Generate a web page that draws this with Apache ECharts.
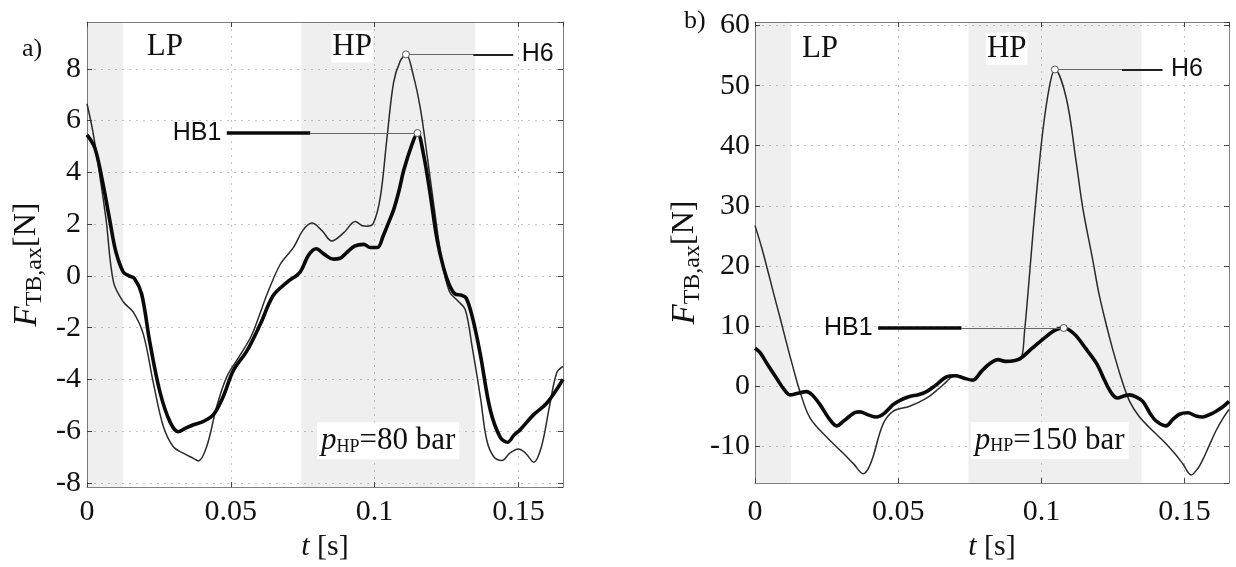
<!DOCTYPE html>
<html><head><meta charset="utf-8">
<script src="https://cdn.jsdelivr.net/npm/echarts@6/dist/echarts.min.js"></script>
<style>html,body{margin:0;padding:0;background:#fff}#c{width:1236px;height:567px}</style>
</head><body><div id="c"></div>
<script>
// ---------- data ----------
const xTickLabels = ['0', '0.05', '0.1', '0.15'];
const yTicksA = [-8, -6, -4, -2, 0, 2, 4, 6, 8];
const yTicksB = [-10, 0, 10, 20, 30, 40, 50, 60];
const seriesNames = ['H6', 'HB1'];
const pressureA = 80, pressureB = 150;

// panel a) p_HP = 80 bar
const tA_H6 = [0,0.0020,0.0040,0.0066,0.0092,0.0126,0.0161,0.0196,0.0231,0.0265,0.0300,0.0335,0.0370,0.0387,0.0416,0.0451,0.0486,0.0530,0.0570,0.0600,0.0625,0.0672,0.0718,0.0750,0.0782,0.0817,0.0851,0.0892,0.0933,0.0955,0.0973,0.0996,0.1020,0.1043,0.1066,0.1089,0.1109,0.1135,0.1159,0.1182,0.1205,0.1235,0.1260,0.1288,0.1315,0.1340,0.1368,0.1390,0.1415,0.1443,0.1470,0.1500,0.1525,0.1553,0.1580,0.1607,0.1633,0.1655];
const vA_H6 = [6.65,5.60,4.20,2.20,-0.23,-1.00,-1.40,-2.26,-4.15,-5.80,-6.60,-6.85,-7.05,-7.15,-6.60,-5.05,-3.90,-3.10,-2.35,-1.50,-0.74,0.45,1.10,1.75,2.04,1.75,1.35,1.66,2.10,1.95,1.92,2.04,3.05,5.33,7.48,8.30,8.56,7.73,6.47,4.70,2.80,0.50,-0.60,-0.95,-1.30,-2.80,-4.70,-6.35,-7.00,-7.13,-6.85,-6.69,-6.85,-7.20,-6.60,-5.10,-3.75,-3.50];
const tA_HB1 = [0,0.0027,0.0053,0.0080,0.0100,0.0126,0.0146,0.0165,0.0190,0.0219,0.0254,0.0289,0.0318,0.0340,0.0370,0.0405,0.0440,0.0474,0.0509,0.0556,0.0602,0.0648,0.0695,0.0741,0.0770,0.0797,0.0823,0.0857,0.0880,0.0903,0.0930,0.0962,0.0985,0.1010,0.1030,0.1050,0.1066,0.1085,0.1101,0.1130,0.1149,0.1170,0.1193,0.1217,0.1240,0.1260,0.1280,0.1300,0.1318,0.1340,0.1367,0.1402,0.1437,0.1462,0.1485,0.1507,0.1553,0.1600,0.1655];
const vA_HB1 = [5.45,4.95,3.70,2.10,0.95,0.15,0.00,-0.10,-0.70,-2.60,-4.50,-5.65,-6.02,-5.90,-5.75,-5.62,-5.35,-4.65,-3.65,-2.90,-1.88,-0.75,-0.25,0.15,0.80,1.05,0.85,0.65,0.68,0.90,1.15,1.22,1.10,1.10,1.55,2.10,2.55,3.30,4.07,5.08,5.52,4.70,3.18,1.41,0.30,-0.35,-0.70,-0.74,-0.85,-1.60,-3.00,-5.17,-6.24,-6.43,-6.15,-5.93,-5.36,-4.90,-4.00];

// panel b) p_HP = 150 bar
const tB_H6 = [0,0.0023,0.0049,0.0064,0.0090,0.0112,0.0134,0.0157,0.0192,0.0250,0.0308,0.0345,0.0378,0.0395,0.0412,0.0447,0.0482,0.0540,0.0599,0.0640,0.0668,0.0690,0.0715,0.0740,0.0761,0.0790,0.0819,0.0848,0.0874,0.0908,0.0930,0.0941,0.0953,0.0968,0.0982,0.1005,0.1029,0.1047,0.1087,0.1122,0.1145,0.1180,0.1200,0.1225,0.1249,0.1279,0.1308,0.1340,0.1377,0.1405,0.1435,0.1465,0.1493,0.1523,0.1545,0.1563,0.1585,0.1610,0.1635,0.1655];
const vB_H6 = [26.7,23.1,18.4,15.6,10.9,6.8,2.9,-0.93,-5.3,-8.5,-11.2,-13.0,-14.6,-13.8,-11.8,-6.35,-4.2,-3.37,-2.0,-0.5,0.7,1.6,1.7,1.2,0.9,2.3,3.6,4.4,4.0,4.2,4.6,9.0,15.4,24.0,31.6,42.5,50.1,52.7,47.9,37.1,29.5,20.8,15.6,10.5,6.1,1.24,-2.56,-5.0,-6.9,-8.2,-9.6,-11.2,-12.9,-14.8,-13.8,-12.3,-10.0,-7.4,-5.3,-3.9];
const tB_HB1 = [0,0.0017,0.0045,0.0076,0.0102,0.0122,0.0150,0.0180,0.0200,0.0227,0.0260,0.0285,0.0310,0.0331,0.0350,0.0366,0.0395,0.0424,0.0450,0.0482,0.0510,0.0540,0.0570,0.0599,0.0630,0.0668,0.0700,0.0730,0.0761,0.0790,0.0819,0.0848,0.0874,0.0908,0.0930,0.0968,0.1008,0.1048,0.1078,0.1114,0.1154,0.1194,0.1220,0.1247,0.1265,0.1290,0.1308,0.1330,0.1354,0.1380,0.1400,0.1435,0.1460,0.1482,0.1511,0.1540,0.1563,0.1590,0.1610,0.1635,0.1655];
const vB_HB1 = [6.3,5.6,3.5,1.24,-0.6,-1.47,-1.2,-0.93,-1.5,-3.1,-5.5,-6.63,-5.8,-5.0,-4.4,-4.3,-4.8,-5.16,-4.6,-3.1,-2.3,-1.74,-1.45,-0.93,0.1,1.5,1.7,1.3,0.98,2.4,3.7,4.4,4.1,4.25,4.7,6.3,7.9,9.3,9.66,8.7,6.3,3.65,1.0,-1.35,-2.0,-1.6,-1.47,-1.8,-2.56,-4.6,-5.8,-6.63,-5.5,-4.7,-4.46,-5.0,-5.16,-4.7,-4.2,-3.4,-2.56];

// shaded phases (time intervals) and phase labels
const bandPhases = [[0, 0.0125], [0.0745, 0.135]];
const phaseLabels = ['LP', 'HP'];

// ---------- helpers ----------
const SERIF = "'Liberation Serif','Times New Roman',serif";
const SANS = "'Liberation Sans',Arial,sans-serif";
const INK = '#111';
const zip = (t, v) => t.map((x, i) => [x, v[i]]);
const peakOf = (t, v) => { const i = v.indexOf(Math.max(...v.slice(1))); return [t[i], v[i]]; };

function axesFor(g, ymin, ymax, yStep, opt) {
  const xs = [
    { gridIndex: g, type: 'value', min: 0, max: 0.1655, interval: 0.05, position: 'bottom',
      axisLine: { show: true, onZero: false, lineStyle: { color: '#808080', width: 1 } },
      axisTick: { show: true, inside: true, length: 5, lineStyle: { color: '#444' } },
      axisLabel: { show: true, margin: opt.xMargin, fontFamily: SERIF, fontSize: 30, color: INK,
        showMaxLabel: false, formatter: v => { const i = Math.round(v / 0.05); return Math.abs(v - i * 0.05) < 1e-9 ? xTickLabels[i] : ''; } },
      splitLine: { show: true, lineStyle: { color: '#c4c4c4', width: 1, type: [2, 5] } },
      name: '{i|t} {n|[s]}', nameLocation: 'middle', nameGap: opt.xNameGap,
      nameTextStyle: { fontFamily: SERIF, fontSize: 30, color: INK,
        rich: { i: { fontFamily: SERIF, fontStyle: 'italic', fontSize: 30, color: INK }, n: { fontFamily: SERIF, fontSize: 30, color: INK } } } },
    { gridIndex: g, type: 'value', min: 0, max: 0.1655, interval: 0.05, position: 'top',
      axisLine: { show: true, onZero: false, lineStyle: { color: '#808080', width: 1 } },
      axisTick: { show: true, inside: true, length: 5, lineStyle: { color: '#444' } },
      axisLabel: { show: false }, splitLine: { show: false } }
  ];
  const ys = [
    { gridIndex: g, type: 'value', min: ymin, max: ymax, minInterval: yStep, maxInterval: yStep, position: 'left',
      axisLine: { show: true, onZero: false, lineStyle: { color: '#808080', width: 1 } },
      axisTick: { show: true, inside: true, length: 5, lineStyle: { color: '#444' } },
      axisLabel: { show: true, margin: opt.yMargin, fontFamily: SERIF, fontSize: 30, color: INK,
        showMinLabel: false, showMaxLabel: false,
        formatter: v => (Math.abs(v / yStep - Math.round(v / yStep)) < 1e-6 ? String(Math.round(v)) : '') },
      splitLine: { show: true, lineStyle: { color: '#c4c4c4', width: 1, type: [2, 5] } },
      name: '{f|F}{s|TB,ax}{n|[N]}', nameLocation: 'middle', nameRotate: 90, nameGap: opt.yNameGap,
      nameTextStyle: { fontFamily: SERIF, fontSize: 32, color: INK, padding: [0, 20, 0, 0],
        rich: {
          f: { fontFamily: SERIF, fontStyle: 'italic', fontSize: 33, color: INK },
          s: { fontFamily: SERIF, fontSize: 24, color: INK, padding: [16, 0, 0, 0] },
          n: { fontFamily: SERIF, fontSize: 32, color: INK }
        } } },
    { gridIndex: g, type: 'value', min: ymin, max: ymax, minInterval: yStep, maxInterval: yStep, position: 'right',
      axisLine: { show: true, onZero: false, lineStyle: { color: '#808080', width: 1 } },
      axisTick: { show: true, inside: true, length: 5, lineStyle: { color: '#444' } },
      axisLabel: { show: false }, splitLine: { show: false } }
  ];
  return { xs, ys };
}

function textPoint(coord, text, extra) {
  return Object.assign({ coord, symbol: 'rect', symbolSize: 1, itemStyle: { color: 'rgba(0,0,0,0)' },
    label: Object.assign({ show: true, position: 'inside', formatter: text, fontFamily: SERIF, fontSize: 31, color: INK }, extra || {}) });
}
function circlePoint(coord) {
  return { coord, symbol: 'circle', symbolSize: 7, itemStyle: { color: '#fff', borderColor: '#555', borderWidth: 1 }, label: { show: false } };
}

function panelSeries(g, tH6, vH6, tHB1, vHB1, ann) {
  const pH6 = peakOf(tH6, vH6), pHB1 = peakOf(tHB1, vHB1);
  const seg = (a, b, y, w, c) => [{ coord: [a, y], lineStyle: { width: w, color: c, type: 'solid' } }, { coord: [b, y] }];
  return [
    { name: seriesNames[0], type: 'line', xAxisIndex: 2 * g, yAxisIndex: 2 * g, data: zip(tH6, vH6),
      showSymbol: false, symbol: 'none', smooth: 0.35, lineStyle: { width: 1.5, color: '#2a2a2a' }, z: 3, animation: false,
      markArea: { silent: true, itemStyle: { color: 'rgba(0,0,0,0.062)' },
        data: bandPhases.map(b => [{ xAxis: b[0] }, { xAxis: b[1] }]) } },
    { name: seriesNames[1], type: 'line', xAxisIndex: 2 * g, yAxisIndex: 2 * g, data: zip(tHB1, vHB1),
      showSymbol: false, symbol: 'none', smooth: 0.35, lineStyle: { width: 3.6, color: '#0a0a0a' }, z: 4, animation: false,
      markLine: { silent: true, symbol: ['none', 'none'], label: { show: false }, animation: false,
        data: [
          seg(pH6[0], ann.h6Thin, pH6[1], 1, '#666'),
          seg(ann.h6Thin, ann.h6Thick, pH6[1], 2.2, '#222'),
          seg(pHB1[0], ann.hb1Thin, pHB1[1], 1, '#666'),
          seg(ann.hb1Thick, ann.hb1Thin, pHB1[1], 3.6, '#0a0a0a')
        ] },
      markPoint: { silent: true, animation: false,
        data: [
          circlePoint(pH6), circlePoint(pHB1),
          textPoint([ann.h6Thick, pH6[1]], seriesNames[0], { position: 'right', distance: 8, fontFamily: SANS, fontSize: 25 }),
          textPoint([ann.hb1Thick, pHB1[1]], seriesNames[1], { position: 'left', distance: 5, fontFamily: SANS, fontSize: 25 }),
          textPoint(ann.lp, phaseLabels[0]),
          textPoint(ann.hp, phaseLabels[1], { backgroundColor: '#fff', padding: [1, 1, 0, 1] }),
          textPoint(ann.p, '{p|p}{s|HP}{n|=' + ann.pressure + ' bar}', { backgroundColor: '#fff', padding: [3, 4, 3, 4],
            rich: { p: { fontFamily: SERIF, fontStyle: 'italic', fontSize: 31, color: INK },
                    s: { fontFamily: SERIF, fontSize: 18, color: INK, padding: [12, 0, 0, 0] },
                    n: { fontFamily: SERIF, fontSize: 31, color: INK } } })
        ] } }
  ];
}

const A = axesFor(0, -8.16, 9.81, 2, { xMargin: 10, xNameGap: 33, yMargin: 6, yNameGap: 40 });
const B = axesFor(1, -16.16, 60.6, 10, { xMargin: 14, xNameGap: 40, yMargin: 5, yNameGap: 50 });

const option = {
  backgroundColor: '#fff',
  animation: false,
  grid: [
    { left: 87, top: 22, width: 476, height: 473.5, containLabel: false },
    { left: 755, top: 22, width: 474, height: 471.5, containLabel: false }
  ],
  xAxis: [...A.xs, ...B.xs],
  yAxis: [...A.ys, ...B.ys],
  graphic: [
    { type: 'text', left: 22, top: 36, style: { text: 'a)', font: '26px ' + SERIF, fill: INK } },
    { type: 'text', left: 684, top: 8, style: { text: 'b)', font: '26px ' + SERIF, fill: INK } }
  ],
  series: [
    ...panelSeries(0, tA_H6, vA_H6, tA_HB1, vA_HB1,
      { h6Thin: 0.1343, h6Thick: 0.1482, hb1Thin: 0.0776, hb1Thick: 0.0486,
        lp: [0.0271, 8.86], hp: [0.0922, 8.86], p: [0.1047, -6.37], pressure: pressureA }),
    ...panelSeries(1, tB_H6, vB_H6, tB_HB1, vB_HB1,
      { h6Thin: 0.1281, h6Thick: 0.1423, hb1Thin: 0.0721, hb1Thick: 0.0430,
        lp: [0.0227, 56.2], hp: [0.0879, 56.2], p: [0.1029, -9.07], pressure: pressureB })
  ]
};
const chart = echarts.init(document.getElementById('c'), null, { renderer: 'canvas' });
chart.setOption(option);
</script></body></html>
